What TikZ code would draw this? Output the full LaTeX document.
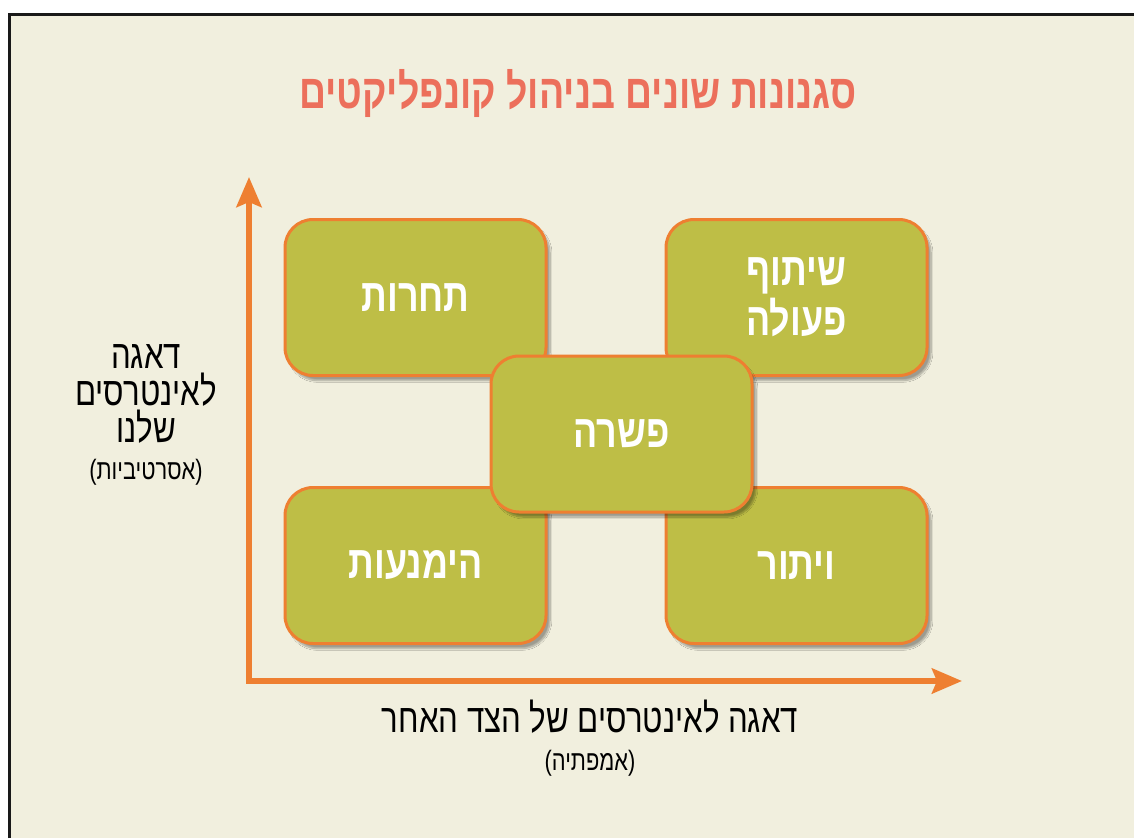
\documentclass[tikz,border=0pt]{standalone}
\usepackage{fontspec}
\usetikzlibrary{shadows.blur,arrows.meta}
\TeXXeTstate=1
\newfontfamily\hebfont[Script=Hebrew,FakeStretch=0.78]{Liberation Sans}
\definecolor{rekaa}{HTML}{F1EFDE}
\definecolor{zait}{HTML}{BEBE46}
\definecolor{katom}{HTML}{EE7F31}
\definecolor{salmon}{HTML}{EC6F5B}

\begin{document}
\begin{tikzpicture}[x=1pt, y=-1pt,
    stylebox/.style={draw=katom, line width=3pt, fill=zait, rounded corners=28pt,
      minimum width=261pt, minimum height=156pt, text=white, align=center,
      font=\hebfont\bfseries\fontsize{46}{50}\selectfont,
      blur shadow={shadow xshift=4pt, shadow yshift=-5pt, shadow blur steps=10, shadow opacity=35}},
    axisline/.style={draw=katom, line width=6pt, line join=miter},
    bigtext/.style={font=\hebfont\fontsize{40}{37}\selectfont, align=center},
    smalltext/.style={font=\hebfont\fontsize{28}{30}\selectfont, align=center}]
  \useasboundingbox (0,0) rectangle (1134,838);
  % background and frame
  \fill[rekaa] (9,14) rectangle (1134,838);
  \draw[line width=2.5pt, black!90] (9.3,838) -- (9.3,14.3) -- (1134,14.3);
  % title
  \node[font=\hebfont\bfseries\fontsize{48}{52}\selectfont, text=salmon] (title) at (578,93)
    {\beginR סגנונות שונים בניהול קונפליקטים\endR};
  % axes
  \coordinate (orig) at (249,681);
  \coordinate (ytip) at (249,177);
  \coordinate (xtip) at (962,681);
  \draw[axisline, {Stealth[length=30pt,width=25pt,inset=5pt]}-{Stealth[length=30pt,width=25pt,inset=5pt]}]
    (ytip) -- (orig) -- (xtip);
  % axis labels
  \node[bigtext] (self) at (146,394)
    {\beginR דאגה\endR\\ \beginR לאינטרסים\endR\\ \beginR שלנו\endR};
  \node[smalltext] (selfnote) at (146,472) {\beginR(אסרטיביות)\endR};
  \node[bigtext] (other) at (590,717) {\beginR דאגה לאינטרסים של הצד האחר\endR};
  \node[smalltext] (othernote) at (590,763) {\beginR(אמפתיה)\endR};
  % styles
  \node[stylebox] (compete) at (415.5,297.5) {\beginR תחרות\endR};
  \node[stylebox] (collab) at (796.5,297.5) {\beginR שיתוף\endR\\ \beginR פעולה\endR};
  \node[stylebox] (avoid) at (415.5,565.5) {\beginR הימנעות\endR};
  \node[stylebox] (yield) at (796.5,565.5) {\beginR ויתור\endR};
  \node[stylebox] (compromise) at (621.5,434) {\beginR פשרה\endR};
\end{tikzpicture}
\end{document}
